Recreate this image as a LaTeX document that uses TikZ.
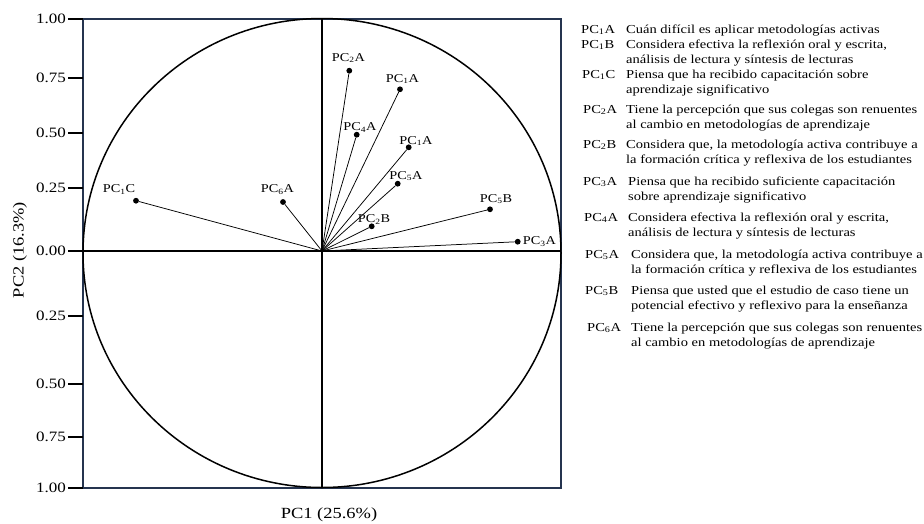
\documentclass[tikz,border=0pt]{standalone}
\usepackage{fontspec}
\setmainfont[FakeStretch=1.19]{Liberation Serif}
\usetikzlibrary{positioning}
\definecolor{boxnavy}{HTML}{25344F}
\newcommand{\twoline}[2]{\begin{tabular}[t]{@{}l@{}}#1\\#2\end{tabular}}

\begin{document}
\begin{tikzpicture}[
    x=1pt, y=-1pt,
    dot/.style={circle, fill=black, inner sep=0pt, minimum size=5.8pt},
    vec/.style={line width=0.75pt},
    pclabel/.style={anchor=base, inner sep=0pt, font=\fontsize{12}{14}\selectfont},
    tickmark/.style={line width=2.7pt},
    ticklabel/.style={anchor=east, inner sep=0pt, font=\fontsize{14.3}{16}\selectfont},
    axtitle/.style={inner sep=0pt, font=\fontsize{15.5}{17}\selectfont},
    key/.style={anchor=base west, inner sep=0pt, font=\fontsize{12.2}{15.2}\selectfont},
    desc/.style={anchor=base west, inner sep=0pt, font=\fontsize{12.2}{15.2}\selectfont},
]
  \useasboundingbox (0,0) rectangle (924,523);

  % Box, axes and circle
  \draw[boxnavy, line width=2pt] (83,19) rectangle (561,488);
  \draw[line width=1.5pt] (322,253) ellipse [x radius=239pt, y radius=234.5pt];
  \draw[line width=2pt] (322,19) -- (322,488);
  \draw[line width=2pt] (83,251) -- (561,251);

  % Ticks
  \node[ticklabel] (t1) at (66,19) {1.00};
  \node[ticklabel] (t2) at (66,78) {0.75};
  \node[ticklabel] (t3) at (66,133) {0.50};
  \node[ticklabel] (t4) at (66,188) {0.25};
  \node[ticklabel] (t5) at (66,251) {0.00};
  \node[ticklabel] (t6) at (66,316) {0.25};
  \node[ticklabel] (t7) at (66,384) {0.50};
  \node[ticklabel] (t8) at (66,437) {0.75};
  \node[ticklabel] (t9) at (66,488) {1.00};
  \draw[tickmark] (68,19) -- (83,19);
  \draw[tickmark] (68,78) -- (83,78);
  \draw[tickmark] (68,133) -- (83,133);
  \draw[tickmark] (68,188) -- (83,188);
  \draw[tickmark] (68,251) -- (83,251);
  \draw[tickmark] (68,316) -- (83,316);
  \draw[tickmark] (68,384) -- (83,384);
  \draw[tickmark] (68,437) -- (83,437);
  \draw[tickmark] (68,488) -- (83,488);

  % Axis titles
  \node[axtitle, anchor=base] (xtitle) at (329,518) {PC1 (25.6\%)};
  \node[axtitle, rotate=90] (ytitle) at (20,250) {PC2 (16.3\%)};

  % Loadings
  \coordinate (o) at (322,251);
  \node[dot] (pc2a) at (349.3,70.7) {};
  \node[dot] (pc1a) at (400,89.3) {};
  \node[dot] (pc4a) at (356.7,134.7) {};
  \node[dot] (pc1b) at (408.7,147.3) {};
  \node[dot] (pc5a) at (397.7,183.7) {};
  \node[dot] (pc2b) at (371.7,226.3) {};
  \node[dot] (pc5b) at (490,209.3) {};
  \node[dot] (pc3a) at (517.7,241.7) {};
  \node[dot] (pc1c) at (136,200.7) {};
  \node[dot] (pc6a) at (283,202) {};
  \draw[vec] (o) -- (pc2a);
  \draw[vec] (o) -- (pc1a);
  \draw[vec] (o) -- (pc4a);
  \draw[vec] (o) -- (pc1b);
  \draw[vec] (o) -- (pc5a);
  \draw[vec] (o) -- (pc2b);
  \draw[vec] (o) -- (pc5b);
  \draw[vec] (o) -- (pc3a);
  \draw[vec] (o) -- (pc1c);
  \draw[vec] (o) -- (pc6a);

  % Labels
  \node[pclabel] (l-pc2a) at (348.5,61) {PC\textsubscript{2}A};
  \node[pclabel] (l-pc1a) at (402.5,82) {PC\textsubscript{1}A};
  \node[pclabel] (l-pc4a) at (360,130.5) {PC\textsubscript{4}A};
  \node[pclabel] (l-pc1b) at (416,144) {PC\textsubscript{1}A};
  \node[pclabel] (l-pc5a) at (406,179) {PC\textsubscript{5}A};
  \node[pclabel] (l-pc2b) at (374,222.5) {PC\textsubscript{2}B};
  \node[pclabel] (l-pc5b) at (496,202) {PC\textsubscript{5}B};
  \node[pclabel] (l-pc3a) at (539.5,244.5) {PC\textsubscript{3}A};
  \node[pclabel] (l-pc1c) at (119,192.5) {PC\textsubscript{1}C};
  \node[pclabel] (l-pc6a) at (277.5,192.5) {PC\textsubscript{6}A};

  % Legend
  \node[key] (k1) at (581,33) {PC\textsubscript{1}A};
  \node[key] (k2) at (581,48) {PC\textsubscript{1}B};
  \node[key] (k3) at (582,78) {PC\textsubscript{1}C};
  \node[key] (k4) at (583,113) {PC\textsubscript{2}A};
  \node[key] (k5) at (583,148) {PC\textsubscript{2}B};
  \node[key] (k6) at (583,185) {PC\textsubscript{3}A};
  \node[key] (k7) at (584,221) {PC\textsubscript{4}A};
  \node[key] (k8) at (585,258) {PC\textsubscript{5}A};
  \node[key] (k9) at (585,294) {PC\textsubscript{5}B};
  \node[key] (k10) at (587,331) {PC\textsubscript{6}A};

  \node[desc] (d1) at (626,33) {Cuán difícil es aplicar metodologías activas};
  \node[desc] (d2) at (626,48) {\twoline{Considera efectiva la reflexión oral y escrita,}{análisis de lectura y síntesis de lecturas}};
  \node[desc] (d3) at (626,78) {\twoline{Piensa que ha recibido capacitación sobre}{aprendizaje significativo}};
  \node[desc] (d4) at (626,113) {\twoline{Tiene la percepción que sus colegas son renuentes}{al cambio en metodologías de aprendizaje}};
  \node[desc] (d5) at (626,148) {\twoline{Considera que, la metodología activa contribuye a}{la formación crítica y reflexiva de los estudiantes}};
  \node[desc] (d6) at (628,185) {\twoline{Piensa que ha recibido suficiente capacitación}{sobre aprendizaje significativo}};
  \node[desc] (d7) at (628,221) {\twoline{Considera efectiva la reflexión oral y escrita,}{análisis de lectura y síntesis de lecturas}};
  \node[desc] (d8) at (631,258) {\twoline{Considera que, la metodología activa contribuye a}{la formación crítica y reflexiva de los estudiantes}};
  \node[desc] (d9) at (631,294) {\twoline{Piensa que usted que el estudio de caso tiene un}{potencial efectivo y reflexivo para la enseñanza}};
  \node[desc] (d10) at (631,331) {\twoline{Tiene la percepción que sus colegas son renuentes}{al cambio en metodologías de aprendizaje}};
\end{tikzpicture}
\end{document}
